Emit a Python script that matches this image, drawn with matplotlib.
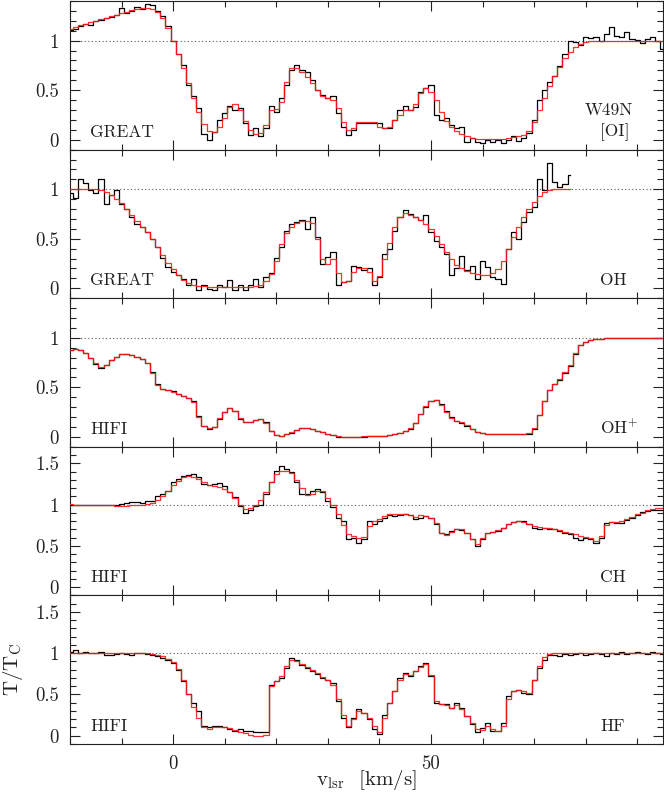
import numpy as np
import matplotlib
matplotlib.use("Agg")
import matplotlib.pyplot as plt
from matplotlib.ticker import MultipleLocator, FuncFormatter

plt.rcParams['font.family'] = ['cmr10', 'DejaVu Serif']
plt.rcParams['mathtext.fontset'] = 'cm'
plt.rcParams['axes.formatter.use_mathtext'] = True

# velocity channels (km/s)
VEL = np.arange(-20, 96)
VEL_OH = np.arange(-20, 78)

OI_OBS = [1.11, 1.12, 1.15, 1.17, 1.16, 1.20, 1.21, 1.23, 1.24, 1.26,
          1.33, 1.28, 1.30, 1.34, 1.32, 1.37, 1.36, 1.30, 1.25, 1.15,
          1.00, 0.86, 0.75, 0.55, 0.44, 0.32, 0.06, 0.00, 0.08, 0.20,
          0.27, 0.34, 0.30, 0.32, 0.17, 0.05, 0.12, 0.04, 0.12, 0.34,
          0.28, 0.42, 0.55, 0.70, 0.75, 0.70, 0.68, 0.60, 0.50, 0.45,
          0.42, 0.44, 0.27, 0.13, 0.05, 0.10, 0.17, 0.17, 0.17, 0.17,
          0.17, 0.12, 0.12, 0.20, 0.30, 0.34, 0.30, 0.33, 0.48, 0.52,
          0.55, 0.25, 0.20, 0.22, 0.15, 0.12, 0.13, -0.02, 0.02, -0.02,
          -0.03, 0.00, -0.02, 0.00, -0.03, 0.00, 0.04, -0.01, 0.02, 0.07,
          0.20, 0.40, 0.50, 0.58, 0.64, 0.74, 0.86, 1.00, 0.99, 0.96,
          1.04, 1.03, 1.04, 1.00, 1.07, 1.14, 1.05, 1.04, 1.09, 1.02,
          1.01, 0.98, 1.02, 1.04, 1.00, 0.92]
OI_MOD = [1.12, 1.14, 1.16, 1.17, 1.19, 1.20, 1.22, 1.23, 1.25, 1.26,
          1.28, 1.29, 1.31, 1.32, 1.33, 1.33, 1.32, 1.29, 1.23, 1.13,
          1.00, 0.86, 0.72, 0.57, 0.42, 0.28, 0.16, 0.09, 0.08, 0.13,
          0.22, 0.33, 0.36, 0.30, 0.19, 0.10, 0.06, 0.07, 0.15, 0.30,
          0.31, 0.38, 0.58, 0.72, 0.72, 0.68, 0.63, 0.57, 0.50, 0.44,
          0.42, 0.40, 0.32, 0.18, 0.10, 0.12, 0.18, 0.18, 0.18, 0.18,
          0.13, 0.12, 0.13, 0.20, 0.25, 0.30, 0.30, 0.36, 0.47, 0.52,
          0.48, 0.40, 0.28, 0.19, 0.13, 0.09, 0.06, 0.04, 0.02, 0.01,
          0.01, 0.01, 0.01, 0.01, 0.01, 0.02, 0.03, 0.04, 0.05, 0.09,
          0.18, 0.30, 0.42, 0.54, 0.64, 0.73, 0.82, 0.89, 0.94, 0.97,
          0.99, 1.00, 1.00, 1.00, 1.00, 1.00, 1.00, 1.00, 1.00, 1.00,
          1.00, 1.00, 1.00, 1.00, 1.00, 1.00]

OH_OBS = [0.96, 0.91, 1.10, 1.06, 0.99, 0.96, 1.10, 0.85, 0.94, 0.99,
          0.85, 0.80, 0.72, 0.65, 0.62, 0.57, 0.50, 0.42, 0.31, 0.21,
          0.16, 0.13, 0.09, 0.03, 0.09, -0.02, 0.03, -0.01, -0.02, 0.03,
          0.01, 0.08, -0.02, 0.03, -0.02, 0.03, 0.09, 0.01, 0.11, 0.15,
          0.31, 0.42, 0.58, 0.65, 0.67, 0.69, 0.60, 0.72, 0.52, 0.25,
          0.32, 0.37, 0.03, 0.06, 0.07, 0.23, 0.21, 0.18, 0.20, 0.03,
          0.11, 0.35, 0.40, 0.58, 0.72, 0.79, 0.75, 0.72, 0.69, 0.74,
          0.57, 0.48, 0.42, 0.35, 0.13, 0.20, 0.33, 0.18, 0.23, 0.09,
          0.28, 0.21, 0.11, 0.09, 0.04, 0.40, 0.57, 0.50, 0.67, 0.77,
          0.82, 1.10, 0.99, 1.26, 1.07, 1.02, 1.05, 1.14]
OH_MOD = [1.00, 1.00, 1.00, 1.00, 1.00, 1.00, 0.99, 0.97, 0.94, 0.90,
          0.86, 0.80, 0.74, 0.68, 0.62, 0.57, 0.50, 0.42, 0.34, 0.26,
          0.19, 0.13, 0.08, 0.05, 0.03, 0.02, 0.02, 0.01, 0.01, 0.01,
          0.01, 0.01, 0.01, 0.01, 0.01, 0.01, 0.02, 0.03, 0.07, 0.14,
          0.28, 0.45, 0.56, 0.62, 0.66, 0.68, 0.68, 0.66, 0.50, 0.30,
          0.25, 0.30, 0.15, 0.06, 0.07, 0.16, 0.20, 0.20, 0.16, 0.07,
          0.12, 0.30, 0.46, 0.62, 0.72, 0.76, 0.74, 0.72, 0.69, 0.65,
          0.60, 0.53, 0.45, 0.37, 0.30, 0.24, 0.20, 0.17, 0.15, 0.14,
          0.13, 0.13, 0.15, 0.19, 0.28, 0.40, 0.52, 0.62, 0.72, 0.80,
          0.87, 0.93, 0.97, 0.99, 1.00, 1.00, 1.00, 1.00]

OHP_OBS = [0.88, 0.89, 0.88, 0.85, 0.80, 0.74, 0.70, 0.73, 0.78, 0.81,
           0.84, 0.84, 0.83, 0.81, 0.79, 0.75, 0.65, 0.53, 0.48, 0.47,
           0.46, 0.43, 0.41, 0.39, 0.36, 0.21, 0.11, 0.08, 0.10, 0.18,
           0.25, 0.29, 0.26, 0.18, 0.15, 0.15, 0.17, 0.18, 0.15, 0.06,
           0.02, 0.01, 0.03, 0.04, 0.07, 0.09, 0.09, 0.08, 0.06, 0.05,
           0.03, 0.02, 0.00, 0.00, 0.00, 0.00, 0.00, 0.00, 0.01, 0.01,
           0.01, 0.01, 0.02, 0.03, 0.04, 0.06, 0.08, 0.14, 0.23, 0.30,
           0.36, 0.37, 0.33, 0.26, 0.20, 0.16, 0.14, 0.11, 0.08, 0.05,
           0.04, 0.03, 0.03, 0.03, 0.03, 0.03, 0.03, 0.03, 0.03, 0.03,
           0.08, 0.22, 0.36, 0.47, 0.53, 0.57, 0.64, 0.72, 0.84, 0.93,
           0.96, 0.98, 0.99, 0.99, 1.00, 1.00, 1.00, 1.00, 1.00, 1.00,
           1.00, 1.00, 1.00, 1.00, 1.00, 1.00]
OHP_MOD = [0.88, 0.89, 0.88, 0.85, 0.80, 0.75, 0.71, 0.73, 0.78, 0.81,
           0.84, 0.84, 0.83, 0.81, 0.79, 0.75, 0.64, 0.52, 0.48, 0.47,
           0.45, 0.43, 0.41, 0.39, 0.35, 0.20, 0.11, 0.09, 0.10, 0.19,
           0.25, 0.29, 0.26, 0.19, 0.15, 0.15, 0.17, 0.18, 0.14, 0.06,
           0.02, 0.01, 0.03, 0.05, 0.07, 0.09, 0.09, 0.08, 0.06, 0.05,
           0.03, 0.02, 0.01, 0.00, 0.00, 0.00, 0.00, 0.01, 0.01, 0.01,
           0.01, 0.01, 0.02, 0.03, 0.04, 0.06, 0.09, 0.14, 0.23, 0.31,
           0.36, 0.37, 0.32, 0.25, 0.19, 0.16, 0.15, 0.12, 0.08, 0.05,
           0.04, 0.03, 0.03, 0.03, 0.03, 0.03, 0.03, 0.03, 0.03, 0.04,
           0.09, 0.22, 0.36, 0.47, 0.53, 0.58, 0.65, 0.73, 0.85, 0.93,
           0.96, 0.98, 0.99, 0.99, 1.00, 1.00, 1.00, 1.00, 1.00, 1.00,
           1.00, 1.00, 1.00, 1.00, 1.00, 1.00]

CH_OBS = [1.00, 1.00, 1.00, 1.00, 1.00, 1.00, 1.00, 1.00, 1.00, 1.00,
          1.01, 1.02, 1.03, 1.03, 1.02, 1.04, 1.04, 1.10, 1.13, 1.17,
          1.27, 1.31, 1.35, 1.36, 1.37, 1.33, 1.25, 1.24, 1.25, 1.26,
          1.23, 1.15, 1.09, 0.98, 0.90, 0.94, 0.98, 1.00, 1.13, 1.27,
          1.41, 1.47, 1.43, 1.39, 1.27, 1.13, 1.13, 1.17, 1.19, 1.15,
          1.04, 0.97, 0.84, 0.80, 0.58, 0.59, 0.54, 0.58, 0.80, 0.76,
          0.80, 0.84, 0.87, 0.86, 0.87, 0.88, 0.87, 0.82, 0.84, 0.86,
          0.84, 0.76, 0.66, 0.64, 0.68, 0.70, 0.69, 0.66, 0.58, 0.50,
          0.58, 0.66, 0.67, 0.68, 0.72, 0.77, 0.79, 0.80, 0.80, 0.76,
          0.72, 0.70, 0.72, 0.71, 0.70, 0.68, 0.65, 0.64, 0.60, 0.57,
          0.59, 0.58, 0.54, 0.60, 0.78, 0.79, 0.78, 0.78, 0.81, 0.84,
          0.87, 0.91, 0.92, 0.93, 0.94, 0.94]
CH_MOD = [1.01, 1.00, 1.00, 1.00, 1.00, 1.00, 1.00, 0.99, 0.99, 0.98,
          0.98, 0.98, 0.99, 0.99, 1.00, 1.01, 1.02, 1.05, 1.10, 1.17,
          1.24, 1.29, 1.33, 1.35, 1.34, 1.31, 1.27, 1.24, 1.22, 1.21,
          1.19, 1.15, 1.08, 1.00, 0.95, 0.96, 0.99, 1.05, 1.15, 1.27,
          1.37, 1.41, 1.41, 1.38, 1.30, 1.20, 1.12, 1.13, 1.16, 1.17,
          1.08, 1.00, 0.88, 0.75, 0.64, 0.62, 0.60, 0.61, 0.74, 0.80,
          0.82, 0.86, 0.88, 0.88, 0.89, 0.88, 0.87, 0.85, 0.87, 0.86,
          0.84, 0.78, 0.65, 0.63, 0.67, 0.70, 0.70, 0.66, 0.58, 0.52,
          0.60, 0.65, 0.67, 0.69, 0.72, 0.77, 0.79, 0.80, 0.79, 0.76,
          0.74, 0.73, 0.72, 0.72, 0.71, 0.69, 0.67, 0.66, 0.64, 0.62,
          0.61, 0.60, 0.56, 0.62, 0.75, 0.79, 0.79, 0.80, 0.82, 0.85,
          0.88, 0.90, 0.93, 0.95, 0.96, 0.96]

HF_OBS = [1.02, 1.04, 1.00, 1.02, 1.00, 1.00, 1.02, 0.98, 0.98, 0.99,
          1.00, 0.99, 0.98, 1.00, 1.00, 0.99, 0.98, 0.96, 0.94, 0.92,
          0.88, 0.80, 0.66, 0.50, 0.40, 0.30, 0.12, 0.10, 0.12, 0.12,
          0.10, 0.08, 0.06, 0.08, 0.06, 0.06, 0.05, 0.04, 0.04, 0.62,
          0.66, 0.70, 0.82, 0.94, 0.92, 0.86, 0.82, 0.78, 0.75, 0.70,
          0.68, 0.64, 0.42, 0.22, 0.10, 0.22, 0.32, 0.28, 0.20, 0.08,
          0.02, 0.25, 0.40, 0.54, 0.70, 0.76, 0.72, 0.78, 0.84, 0.88,
          0.72, 0.40, 0.38, 0.38, 0.34, 0.40, 0.34, 0.24, 0.14, 0.05,
          0.09, 0.16, 0.06, 0.06, 0.15, 0.48, 0.54, 0.56, 0.52, 0.50,
          0.68, 0.82, 0.92, 0.98, 0.98, 0.97, 0.99, 0.98, 0.99, 1.00,
          0.98, 0.99, 1.00, 0.99, 0.97, 1.00, 0.99, 1.01, 0.99, 1.00,
          1.02, 1.00, 0.99, 1.01, 1.00, 0.99]
HF_MOD = [1.00, 1.00, 1.00, 1.00, 1.00, 1.00, 1.00, 1.00, 1.00, 1.00,
          1.00, 1.00, 1.00, 1.00, 1.00, 1.00, 0.99, 0.98, 0.96, 0.93,
          0.89, 0.81, 0.68, 0.50, 0.35, 0.22, 0.10, 0.08, 0.10, 0.11,
          0.11, 0.09, 0.07, 0.05, 0.03, 0.01, 0.00, 0.00, 0.01, 0.60,
          0.66, 0.72, 0.84, 0.92, 0.91, 0.87, 0.83, 0.80, 0.76, 0.71,
          0.68, 0.62, 0.45, 0.25, 0.12, 0.20, 0.30, 0.28, 0.22, 0.12,
          0.04, 0.22, 0.40, 0.54, 0.68, 0.75, 0.73, 0.78, 0.83, 0.87,
          0.74, 0.42, 0.38, 0.37, 0.34, 0.37, 0.33, 0.24, 0.15, 0.08,
          0.07, 0.12, 0.08, 0.06, 0.12, 0.45, 0.54, 0.55, 0.54, 0.52,
          0.68, 0.84, 0.95, 0.99, 1.00, 1.00, 1.00, 1.00, 1.00, 1.00,
          1.00, 1.00, 1.00, 1.00, 1.00, 1.00, 1.00, 1.00, 1.00, 1.00,
          1.00, 1.00, 1.00, 1.00, 1.00, 1.00]

PANELS = [
    (VEL, OI_OBS, OI_MOD, 'GREAT', [('W49N', 0.8685, 0.232), ('[OI]', 0.894, 0.088)], (-0.1, 1.4)),
    (VEL_OH, OH_OBS, OH_MOD, 'GREAT', [('OH', 0.894, 0.088)], (-0.1, 1.4)),
    (VEL, OHP_OBS, OHP_MOD, 'HIFI', [(r'OH$^{+}$', 0.894, 0.088)], (-0.1, 1.4)),
    (VEL, CH_OBS, CH_MOD, 'HIFI', [('CH', 0.894, 0.088)], (-0.1, 1.7)),
    (VEL, HF_OBS, HF_MOD, 'HIFI', [('HF', 0.894, 0.088)], (-0.1, 1.7)),
]

W, H = 664, 795
fig = plt.figure(figsize=(W / 100, H / 100), dpi=100)
left_px, right_px = 70, 663
top_px, bot_px = 1, 744
ph = (bot_px - top_px) / 5.0
fmt = FuncFormatter(lambda v, p: f'{v:g}')
INK = '#222222'

axes = []
for i, (vel, obs, mod, tel, rlabels, ylim) in enumerate(PANELS):
    assert len(vel) == len(obs) == len(mod), (i, len(vel), len(obs), len(mod))
    y0 = H - (top_px + (i + 1) * ph)
    ax = fig.add_axes([left_px / W, y0 / H, (right_px - left_px) / W, ph / H])
    ax.axhline(1.0, color='0.35', lw=0.8, ls=(0, (1, 2.2)), zorder=1)
    ax.step(vel, obs, where='mid', color='black', lw=0.9, zorder=2)
    ax.step(vel, mod, where='mid', color='#ff1a1a', lw=0.9, alpha=0.9, zorder=3)
    ax.set_xlim(-20, 95)
    ax.set_ylim(*ylim)
    ax.xaxis.set_major_locator(MultipleLocator(50))
    ax.xaxis.set_minor_locator(MultipleLocator(10))
    ax.yaxis.set_major_locator(MultipleLocator(0.5))
    ax.yaxis.set_minor_locator(MultipleLocator(0.1))
    ax.yaxis.set_major_formatter(fmt)
    ax.xaxis.set_major_formatter(fmt)
    ax.tick_params(which='both', direction='in', top=True, right=True,
                   width=0.8, labelsize=13.5, colors=INK)
    ax.tick_params(which='major', length=7, pad=8)
    ax.tick_params(which='minor', length=4)
    if i < 4:
        ax.tick_params(axis='x', labelbottom=False)
    for s in ax.spines.values():
        s.set_linewidth(0.8)
        s.set_color(INK)
    ax.text(0.0337, 0.088, tel, transform=ax.transAxes, fontsize=12.5,
            va='baseline', ha='left', color=INK)
    for txt, xx, yy in rlabels:
        ax.text(xx, yy, txt, transform=ax.transAxes, fontsize=12.5,
                va='baseline', ha='left', color=INK)
    axes.append(ax)

fig.text((left_px + right_px) / 2 / W, 15 / H, r'$\rm v_{lsr}$  [km/s]',
         fontsize=15, ha='center', va='center', color=INK)
fig.text(0.019, 1 - ((top_px + 4.5 * ph) / H), r'T/T$_{\rm C}$', rotation=90,
         va='center', ha='center', fontsize=15, color=INK)

fig.savefig('out.png', dpi=100)
